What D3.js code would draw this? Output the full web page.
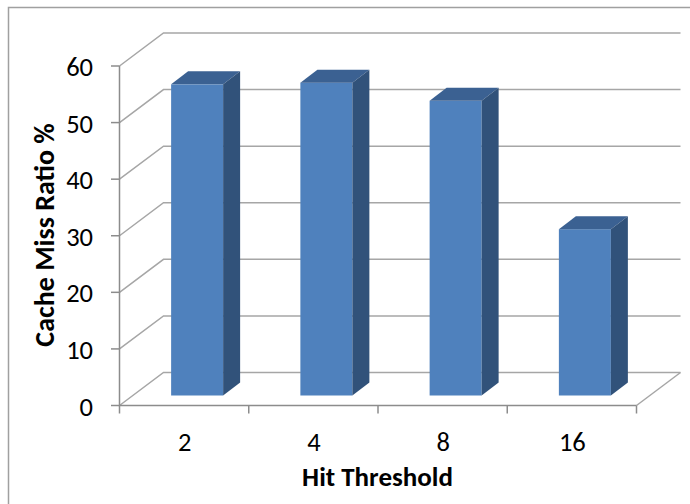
<!DOCTYPE html>
<html><head><meta charset="utf-8">
<script src="https://cdn.jsdelivr.net/npm/d3@7"></script>
<style>html,body{margin:0;background:#fff}svg{display:block}text{font-family:Carlito,Lato,"Liberation Sans",sans-serif;fill:#000}</style>
</head><body><svg id="c" width="690" height="504"></svg>
<script>
const categories = ["2","4","8","16"];
const values = [54.9,55.2,52,29.3];
const yTicks = [0,10,20,30,40,50,60];
const xTitle = "Hit Threshold";
const yTitle = "Cache Miss Ratio %";

const svg = d3.select("#c");
const grid = "#a6a6a6", axisC = "#8c8c8c";
const x = d3.scaleBand().domain(categories).range([119.5,636.5]);
const y = d3.scaleLinear().domain([0,60]).range([405.5,66]);
const wallDx = 44, wallDy = -33, barDx = 17, barDy = -13, barOffDy = -10, barOffDx = 12.5;
const barW = 52;

svg.append("path").attr("d","M8.5,504V7.5H690").attr("fill","none").attr("stroke","#a0a0a0").attr("stroke-width",1.5);

const g = svg.append("g").attr("fill","none").attr("stroke-width",1.5);
yTicks.forEach(t=>{
  const p = y(t);
  g.append("path").attr("stroke",grid)
   .attr("d",`M${x.range()[0]},${p}l${wallDx},${wallDy}H${x.range()[1]+wallDx}`);
});
g.append("path").attr("stroke",grid).attr("d",`M${x.range()[1]},${y(0)}l${wallDx},${wallDy}`);

const ax = svg.append("g").attr("fill","none").attr("stroke",axisC).attr("stroke-width",1.5);
ax.append("path").attr("d",`M${x.range()[0]},${y(60)}V${y(0)}H${x.range()[1]}`);
yTicks.forEach(t=>ax.append("path").attr("d",`M111,${y(t)}H${x.range()[0]}`));
[...categories.map(c=>x(c)),x.range()[1]].forEach(v=>ax.append("path").attr("d",`M${v},${y(0)}v8`));

const bars = svg.append("g");
const y0 = y(0)+barOffDy;
categories.forEach((c,i)=>{
  const l = x(c)+x.bandwidth()/2-barW/2+0.5+barOffDx, r = l+barW, t = y(values[i])+barOffDy-0.5;
  bars.append("rect").attr("x",l).attr("y",t).attr("width",barW).attr("height",y0-t).attr("fill","#4f81bd");
  bars.append("path").attr("fill","#3b6192").attr("d",`M${l},${t}l${barDx},${barDy}H${r+barDx}L${r},${t}Z`);
  bars.append("path").attr("fill","#31527a").attr("d",`M${r},${t}l${barDx},${barDy}V${y0+barDy}L${r},${y0}Z`);
});

const tx = svg.append("g");
yTicks.forEach(t=>tx.append("text").attr("x",93).attr("y",y(t)+10).attr("text-anchor","end").attr("font-size",26.5).text(t));
categories.forEach(c=>tx.append("text").attr("x",x(c)+x.bandwidth()/2+0.5).attr("y",451).attr("text-anchor","middle").attr("font-size",26.5).text(c));
tx.append("text").attr("x",377.5).attr("y",486).attr("text-anchor","middle").attr("font-size",27).attr("font-weight","bold").text(xTitle);
tx.append("text").attr("transform","translate(54,235) rotate(-90)").attr("text-anchor","middle").attr("font-size",28).attr("font-weight","bold").text(yTitle);
</script></body></html>
